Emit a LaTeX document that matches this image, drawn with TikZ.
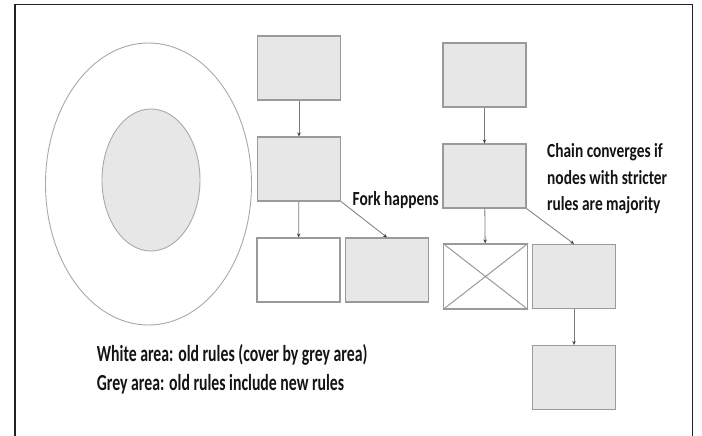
\documentclass[tikz,border=0pt]{standalone}
\usepackage{fontspec}
\setmainfont{Carlito}
\usetikzlibrary{arrows.meta,shapes.geometric}
\definecolor{boxfill}{HTML}{E7E7E7}
\definecolor{boxline}{HTML}{9A9A9A}
\definecolor{arrline}{HTML}{7A7A7A}
\definecolor{frameline}{HTML}{222222}
\newcommand{\narrow}[2]{\scalebox{#1}[1]{#2}}
\tikzset{
  block/.style={rectangle, draw=boxline, fill=boxfill, line width=1.2pt,
    minimum width=83pt, minimum height=64pt, inner sep=0pt},
  emptyblock/.style={block, fill=white},
  link/.style={draw=arrline, line width=0.8pt,
    -{Stealth[length=4pt,width=3.5pt,color=black!75]}},
  ring/.style={ellipse, draw=boxline!85, line width=0.9pt, inner sep=0pt},
  lbl/.style={anchor=base west, inner sep=0pt, text=black!92}
}
\begin{document}
\begin{tikzpicture}[x=1pt,y=-1pt]
\useasboundingbox (0,0) rectangle (702,436);
\fill[white] (0,0) rectangle (702,436);
% frame, open at the bottom
\draw[frameline, line width=1.8pt] (15,436) -- (15,4.5) -- (692.5,4.5) -- (692.5,436);

% nested rule sets
\node[ring, fill=white, minimum width=206pt, minimum height=282pt] (outer) at (148.5,184) {};
\node[ring, fill=boxfill, minimum width=98pt, minimum height=142pt] (inner) at (151,180) {};

% left chain: fork
\node[block] (a1) at (299,68) {};
\node[block] (a2) at (299,169) {};
\node[emptyblock] (a3) at (298.5,270) {};
\node[block] (a4) at (387,270) {};
\draw[link] (a1) -- (a2);
\draw[link] (a2) -- (a3);
\draw[link] (a2.south east) -- (a4.north);

% right chain: convergence
\node[block] (b1) at (484.5,75) {};
\node[block] (b2) at (484.5,176) {};
\node[emptyblock, minimum width=84pt, minimum height=65pt] (b3) at (485.5,276.5) {};
\draw[boxline, line width=1pt] (b3.north west) -- (b3.south east)
  (b3.south west) -- (b3.north east);
\node[block] (b4) at (574,276.5) {};
\node[block] (b5) at (574,377.5) {};
\draw[link] (b1) -- (b2);
\draw[link] (b2) -- (b3);
\draw[link] (b2.south east) -- (b4.north);
\draw[link] (b4) -- (b5);

% labels
\node[lbl, font=\bfseries\fontsize{20}{24}\selectfont] (fork) at (352.5,205.5) {\narrow{0.77}{Fork happens}};
\node[lbl, font=\bfseries\fontsize{20}{24}\selectfont] (conv1) at (547,157.5) {\narrow{0.77}{Chain converges if}};
\node[lbl, font=\bfseries\fontsize{20}{24}\selectfont] (conv2) at (547,184) {\narrow{0.77}{nodes with stricter}};
\node[lbl, font=\bfseries\fontsize{20}{24}\selectfont] (conv3) at (547,210) {\narrow{0.77}{rules are majority}};
\node[lbl, font=\bfseries\fontsize{23}{28}\selectfont] (key1) at (96.7,361.7) {\narrow{0.685}{White area: old rules (cover by grey area)}};
\node[lbl, font=\bfseries\fontsize{23}{28}\selectfont] (key2) at (96.7,390) {\narrow{0.685}{Grey area: old rules include new rules}};
\end{tikzpicture}
\end{document}
